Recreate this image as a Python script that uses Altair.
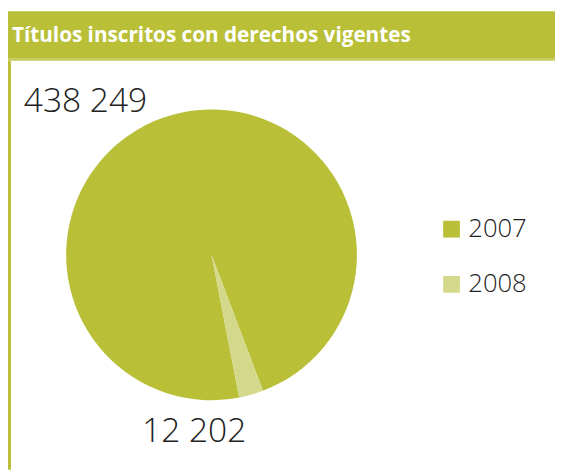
import altair as alt
import pandas as pd
import math

title_text = "Títulos inscritos con derechos vigentes"
years = ["2007", "2008"]
values = [438249, 12202]
labels = ["438 249", "12 202"]
colors = ["#b9c038", "#d4d88a"]

df = pd.DataFrame({"year": years, "value": values, "label": labels, "order": [0, 1]})

OFF = 8  # page margin
W, H = 563 - OFF, 473 - OFF
cx, cy, R = 214.5 - OFF, 255 - OFF, 147.5
start = 2.95

base = alt.Chart(df)
deco = alt.Chart(pd.DataFrame({"t": [title_text]}))

bar = deco.mark_rect(color="#b9c038").encode(
    x=alt.value(0), x2=alt.value(W), y=alt.value(0), y2=alt.value(56 - OFF)
)
barline = deco.mark_rect(color="#c5cb5c").encode(
    x=alt.value(0), x2=alt.value(W), y=alt.value(56 - OFF), y2=alt.value(58 - OFF)
)
border = deco.mark_rect(color="#b9c038").encode(
    x=alt.value(0), x2=alt.value(3), y=alt.value(58 - OFF), y2=alt.value(H)
)
title = deco.mark_text(
    font="Open Sans", fontWeight="bold", fontSize=21, color="white", align="left", baseline="alphabetic"
).encode(text="t:N", x=alt.value(12 - OFF), y=alt.value(39 - OFF))

pie = base.mark_arc(outerRadius=R, stroke=None).encode(
    theta=alt.Theta("value:Q", scale=alt.Scale(range=[start, start + 2 * math.pi]), stack=True),
    order=alt.Order("order:Q"),
    color=alt.Color(
        "year:N",
        scale=alt.Scale(domain=years, range=colors),
        legend=alt.Legend(
            title=None, orient="none", legendX=445 - OFF, legendY=216 - OFF,
            symbolType="square", symbolSize=289, symbolStrokeWidth=0, symbolOpacity=1,
            labelFont="Open Sans", labelFontSize=26, labelFontWeight=300, labelColor="#222222",
            labelOffset=4, rowPadding=30,
        ),
    ),
    x=alt.value(cx), y=alt.value(cy),
)

lab1 = base.transform_filter(alt.datum.year == "2007").mark_text(
    font="Open Sans", fontWeight=300, fontSize=34, color="#222222", align="left", baseline="alphabetic"
).encode(text="label:N", x=alt.value(24 - OFF), y=alt.value(110 - OFF))
lab2 = base.transform_filter(alt.datum.year == "2008").mark_text(
    font="Open Sans", fontWeight=300, fontSize=34, color="#222222", align="left", baseline="alphabetic"
).encode(text="label:N", x=alt.value(144 - OFF), y=alt.value(445 - OFF))

chart = alt.layer(bar, barline, border, title, pie, lab1, lab2).properties(
    width=W, height=H, autosize=alt.AutoSizeParams(type="none"), padding=0, background="white"
).configure_view(stroke=None)

chart.save("out.html", embed_options={"renderer": "svg", "actions": False})
